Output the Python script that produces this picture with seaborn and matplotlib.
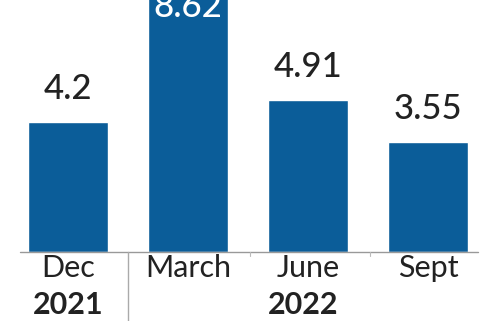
import matplotlib
matplotlib.use("Agg")
import matplotlib.pyplot as plt
import seaborn as sns
import pandas as pd

categories = ["Dec", "March", "June", "Sept"]
values = [4.2, 8.62, 4.91, 3.55]
value_labels = ["4.2", "8.62", "4.91", "3.55"]
year_labels = ["2021", "2022"]

sns.set_style("white")
plt.rcParams['font.family'] = ['Lato', 'DejaVu Sans']

df = pd.DataFrame({"period": categories, "value": values})

fig = plt.figure(figsize=(4.8, 3.21), dpi=100)
ax = fig.add_axes([0, 69/321, 1, 252/321])
color = "#0b5d99"
sns.barplot(data=df, x="period", y="value", color=color, width=0.667,
            saturation=1, ax=ax)

ax.set_xlim(-68/120, (480-68)/120)
ax.set_ylim(0, 252/31)
for s in ax.spines.values():
    s.set_visible(False)
ax.set_ylabel("")
ax.set_xlabel("")
ax.set_yticks([])
ax.tick_params(axis="x", length=0, pad=1.5, labelsize=22, colors="#222222")
ax.set_xticks(range(len(categories)))
ax.set_xticklabels(categories)

ax.axhline(0, xmin=20/480, xmax=478/480, color="#999999", lw=1, clip_on=False)

ymax = ax.get_ylim()[1]
for i, (v, lab) in enumerate(zip(values, value_labels)):
    if v > ymax:
        ax.text(i, ymax - 0.24, lab, ha="center", va="center", fontsize=25,
                color="white", fontweight="medium")
    else:
        ax.text(i, v + 0.55, lab, ha="center", va="bottom", fontsize=25,
                color="#222222", fontweight="medium")

# divider between years
ax.plot([0.5, 0.5], [0, -69/31], color="#aaaaaa", lw=1, clip_on=False)
for xx in [1.52, 2.52]:
    ax.plot([xx, xx], [0, -0.12], color="#bbbbbb", lw=0.8, clip_on=False)

ax.text(0, -53/31, year_labels[0], ha="center", va="center", fontsize=22,
        fontweight="bold", color="#222222")
ax.text(1.96, -53/31, year_labels[1], ha="center", va="center", fontsize=22,
        fontweight="bold", color="#222222")

fig.savefig("out.png", dpi=100)
